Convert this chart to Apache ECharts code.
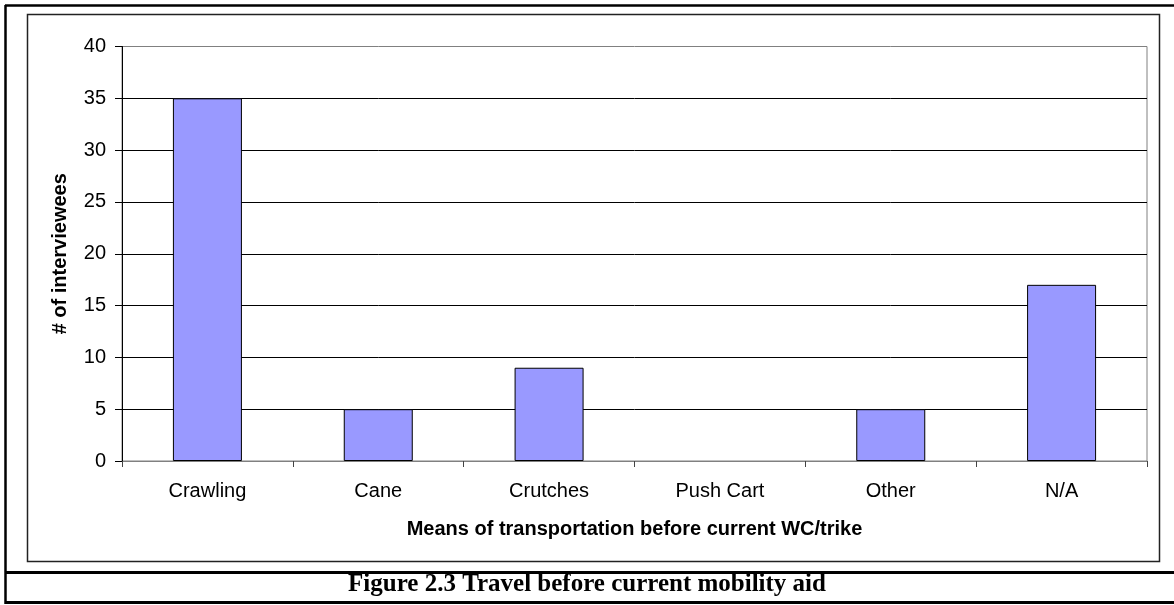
<!DOCTYPE html>
<html>
<head>
<meta charset="utf-8">
<script src="https://cdn.jsdelivr.net/npm/echarts@6/dist/echarts.min.js"></script>
<style>
html,body{margin:0;padding:0;background:#fff;}
#c{width:1174px;height:605px;}
</style>
</head>
<body>
<div id="c"></div>
<script>
const categories = ['Crawling', 'Cane', 'Crutches', 'Push Cart', 'Other', 'N/A'];
const values = [35, 5, 9, 0, 5, 17];
const yTicks = [0, 5, 10, 15, 20, 25, 30, 35, 40];
const xAxisTitle = 'Means of transportation before current WC/trike';
const yAxisTitle = '# of interviewees';
const caption = 'Figure 2.3 Travel before current mobility aid';

const chart = echarts.init(document.getElementById('c'), null, {renderer: 'canvas'});
chart.setOption({
  animation: false,
  backgroundColor: '#fff',
  grid: {
    left: 122, top: 46.5, right: 27, bottom: 144,
    show: true, borderColor: '#808080', borderWidth: 1, backgroundColor: 'transparent'
  },
  xAxis: {
    type: 'category',
    data: categories,
    axisLine: {lineStyle: {color: '#808080', width: 1}},
    axisTick: {show: true, length: 6, alignWithLabel: false, lineStyle: {color: '#444'}},
    axisLabel: {color: '#000', fontFamily: 'Liberation Sans, Arial', fontSize: 20, margin: 20},
    name: xAxisTitle,
    nameLocation: 'middle',
    nameGap: 58,
    nameTextStyle: {color: '#000', fontFamily: 'Liberation Sans, Arial', fontSize: 20, fontWeight: 'bold'}
  },
  yAxis: {
    type: 'value',
    min: yTicks[0], max: yTicks[yTicks.length - 1], interval: yTicks[1] - yTicks[0],
    axisLine: {show: true, lineStyle: {color: '#000', width: 1}},
    axisTick: {show: true, length: 7, lineStyle: {color: '#000'}},
    axisLabel: {color: '#000', fontFamily: 'Liberation Sans, Arial', fontSize: 20, margin: 16},
    splitLine: {show: true, showMinLine: false, showMaxLine: false, lineStyle: {color: '#000', width: 1}},
    name: yAxisTitle,
    nameLocation: 'middle',
    nameGap: 52,
    nameRotate: 90,
    nameTextStyle: {color: '#000', fontFamily: 'Liberation Sans, Arial', fontSize: 20, fontWeight: 'bold'}
  },
  series: [{
    type: 'bar',
    data: values.map(v => v === 0 ? {value: v, itemStyle: {borderWidth: 0, opacity: 0}} : v),
    barWidth: 69,
    itemStyle: {color: '#9999FF', borderColor: '#000', borderWidth: 1}
  }],
  graphic: [
    {type: 'line', shape: {x1: 5, y1: 5.5, x2: 1174, y2: 5.5}, style: {stroke: '#000', lineWidth: 2.5}, silent: true},
    {type: 'line', shape: {x1: 5.5, y1: 5, x2: 5.5, y2: 604}, style: {stroke: '#000', lineWidth: 2.5}, silent: true},
    {type: 'line', shape: {x1: 5, y1: 572.5, x2: 1174, y2: 572.5}, style: {stroke: '#000', lineWidth: 3}, silent: true},
    {type: 'line', shape: {x1: 5, y1: 602.5, x2: 1174, y2: 602.5}, style: {stroke: '#000', lineWidth: 3}, silent: true},
    {type: 'rect', shape: {x: 27.5, y: 14.5, width: 1132, height: 547}, style: {fill: 'none', stroke: '#222', lineWidth: 1.5}, silent: true},
    {type: 'text', x: 587, y: 584.5, style: {text: caption, fill: '#000', font: 'bold 25px "Liberation Serif", "Times New Roman", serif', textAlign: 'center', textVerticalAlign: 'middle'}, silent: true}
  ]
});
</script>
</body>
</html>
